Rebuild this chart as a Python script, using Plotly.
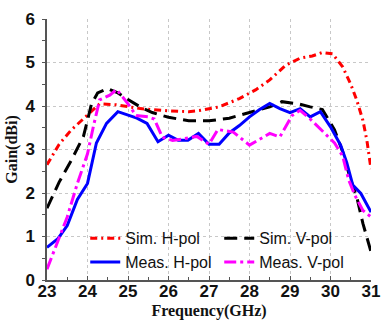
import plotly.graph_objects as go

# Sim. H-pol
sim_h_x = [23, 23.3, 23.6, 24, 24.3, 24.7, 25, 25.3, 26, 26.5, 26.8, 27.25, 27.75, 28.15, 28.5, 28.9, 29.25, 29.55, 29.8, 30.05, 30.3, 30.5, 30.65, 30.8, 30.9, 31]
sim_h_y = [2.65, 3.12, 3.45, 3.8, 4.05, 4.03, 3.98, 3.94, 3.89, 3.87, 3.9, 3.98, 4.17, 4.37, 4.6, 4.94, 5.1, 5.15, 5.23, 5.2, 4.9, 4.5, 4.13, 3.67, 3.2, 2.55]

# Sim. V-pol
sim_v_x = [23, 23.3, 23.6, 23.9, 24.1, 24.25, 24.5, 24.75, 25, 25.3, 25.6, 26, 26.5, 27, 27.5, 28, 28.5, 28.8, 29.2, 29.5, 29.8, 30.1, 30.3, 30.5, 30.65, 30.8, 31]
sim_v_y = [1.65, 2.25, 2.75, 3.3, 4.05, 4.3, 4.4, 4.3, 4.15, 3.98, 3.85, 3.74, 3.66, 3.66, 3.72, 3.85, 3.98, 4.1, 4.05, 3.98, 3.92, 3.45, 2.95, 2.3, 1.9, 1.3, 0.65]

# Meas. H-pol
meas_h_x = [23, 23.27, 23.5, 23.75, 24, 24.22, 24.47, 24.75, 25.22, 25.47, 25.74, 26, 26.24, 26.48, 26.74, 27, 27.25, 27.5, 27.75, 28, 28.25, 28.5, 28.75, 29, 29.25, 29.5, 29.75, 30, 30.25, 30.4, 30.55, 30.75, 31]
meas_h_y = [0.75, 0.95, 1.25, 1.85, 2.22, 3.15, 3.6, 3.87, 3.72, 3.6, 3.18, 3.33, 3.21, 3.21, 3.37, 3.12, 3.12, 3.38, 3.55, 3.75, 3.92, 4.06, 3.94, 3.85, 3.94, 3.75, 3.87, 3.52, 3.1, 2.7, 2.18, 1.99, 1.56]

# Meas. V-pol
meas_v_x = [23, 23.3, 23.5, 23.75, 24.0, 24.15, 24.3, 24.55, 24.72, 25.0, 25.2, 25.5, 25.65, 25.85, 26.1, 26.4, 26.7, 27.0, 27.22, 27.6, 28.0, 28.5, 28.75, 29.05, 29.25, 29.5, 29.85, 30.1, 30.3, 30.45, 30.6, 30.8, 31]
meas_v_y = [0.25, 0.99, 1.45, 2.22, 2.9, 3.55, 4.14, 4.25, 4.38, 4.05, 3.78, 3.75, 3.7, 3.28, 3.21, 3.25, 3.3, 3.12, 3.46, 3.4, 3.1, 3.37, 3.29, 3.78, 3.9, 3.7, 3.38, 3.15, 2.85, 2.3, 1.95, 1.6, 1.45]

x_ticks = [23, 24, 25, 26, 27, 28, 29, 30, 31]
y_ticks = [0, 1, 2, 3, 4, 5, 6]

fig = go.Figure()
fig.add_trace(go.Scatter(x=sim_h_x, y=sim_h_y, mode="lines", name="Sim. H-pol",
                         line=dict(color="#FF0000", width=3, dash="7px,4px,2px,4px")))
fig.add_trace(go.Scatter(x=sim_v_x, y=sim_v_y, mode="lines", name="Sim. V-pol",
                         line=dict(color="#000000", width=3, dash="13px,7px")))
fig.add_trace(go.Scatter(x=meas_h_x, y=meas_h_y, mode="lines", name="Meas. H-pol",
                         line=dict(color="#0000FF", width=3)))
fig.add_trace(go.Scatter(x=meas_v_x, y=meas_v_y, mode="lines", name="Meas. V-pol",
                         line=dict(color="#FF00FF", width=3, dash="12px,4px,3px,4px")))

axis_font = dict(family="Liberation Sans, Arial", size=17, color="#111111")
title_font = dict(family="Liberation Serif, Times New Roman", size=16, color="#111111")

fig.update_layout(
    width=384, height=320,
    margin=dict(l=47, r=13, t=19, b=40),
    paper_bgcolor="white", plot_bgcolor="white",
    showlegend=True,
    legend=dict(orientation="h", x=0.118, xanchor="left", y=0.225, yanchor="top",
                bgcolor="rgba(0,0,0,0)", font=dict(family="Liberation Sans, Arial", size=16, color="#111111"),
                entrywidth=89, tracegroupgap=0, itemwidth=30),
)

fig.update_xaxes(
    range=[23, 31], tickvals=x_ticks, ticktext=["<b>%d</b>" % v for v in x_ticks],
    tickfont=axis_font,
    title=dict(text="<b>Frequency(GHz)</b>", font=title_font, standoff=9),
    showline=True, linecolor="#555555", linewidth=1.5,
    ticks="inside", ticklen=4, tickcolor="#555555", ticklabelstandoff=-5,
    minor=dict(dtick=0.5, ticks="inside", ticklen=3, tickcolor="#555555", showgrid=False),
    showgrid=True, gridcolor="#c8c8c8", griddash="dot", gridwidth=1,
    zeroline=False, automargin=False,
)
fig.update_yaxes(
    range=[0, 6], tickvals=y_ticks, ticktext=["<b>%d</b>" % v for v in y_ticks],
    tickfont=axis_font,
    title=dict(text="<b>Gain(dBi)</b>", font=title_font, standoff=4),
    showline=True, linecolor="#555555", linewidth=1.5,
    ticks="outside", ticklen=3, tickcolor="#555555", ticklabelstandoff=4,
    minor=dict(dtick=0.5, ticks="outside", ticklen=3, tickcolor="#555555", showgrid=False),
    showgrid=True, gridcolor="#c8c8c8", griddash="dot", gridwidth=1,
    zeroline=False, automargin=False,
)

fig.write_html("out.html")
